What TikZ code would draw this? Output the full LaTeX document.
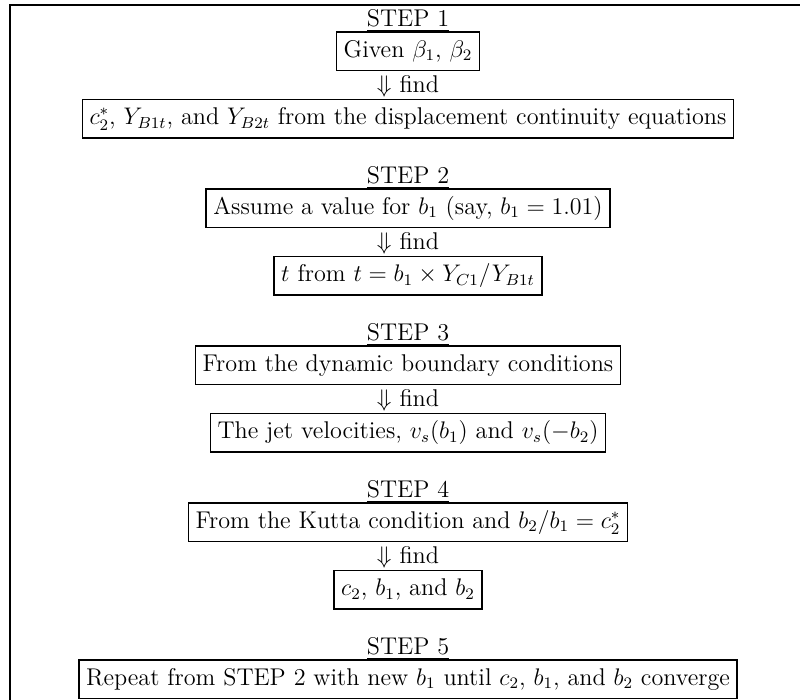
\documentclass[tikz,border=0pt]{standalone}
\usepackage{tikz}
\usetikzlibrary{
    positioning % for placing nodes relative to other nodes
}

\begin{document}
\begin{tikzpicture}[
    x=0.5pt,y=-0.5pt,
    font=\fontsize{12.1}{14.5}\selectfont,
    every node/.style  = {inner sep=0pt,outer sep=0pt},
    steplabel/.style   = {anchor=base},
    stepbox/.style     = {draw,line width=0.8pt,inner sep=3.6pt,text height=9pt,text depth=3pt},
    findtext/.style    = {text height=8.5pt,text depth=2.5pt},
    frameline/.style   = {line width=0.8pt}
]
\useasboundingbox (0,0) rectangle (800,700);

% outer frame (only top and left edges are visible)
    \coordinate (fbl) at (10,700);
    \coordinate (ftl) at (10,5);
    \coordinate (ftr) at (800,5);
    \draw [frameline] (fbl) -- (ftl) -- (ftr);

% STEP 1
    \node [steplabel]              (s1) at (408,27)         {\underline{STEP 1}};
    \node [stepbox]                (g1) [below=2.5pt of s1.base] {Given $\beta_1$, $\beta_2$};
    \node [findtext]               (f1) [below=2.5pt of g1] {$\Downarrow$ find};
    \node [stepbox]                (r1) [below=3.5pt of f1.base] {$c_2^*$, $Y_{B1t}$, and $Y_{B2t}$ from the displacement continuity equations};

% STEP 2
    \node [steplabel]              (s2) at (408,184)        {\underline{STEP 2}};
    \node [stepbox]                (g2) [below=2.5pt of s2.base] {Assume a value for $b_1$ (say, $b_1 = 1.01$)};
    \node [findtext]               (f2) [below=2.5pt of g2] {$\Downarrow$ find};
    \node [stepbox]                (r2) [below=3.5pt of f2.base] {$t$ from $t = b_1 \times Y_{C1}/Y_{B1t}$};

% STEP 3
    \node [steplabel]              (s3) at (408,341)        {\underline{STEP 3}};
    \node [stepbox]                (g3) [below=2.5pt of s3.base] {From the dynamic boundary conditions};
    \node [findtext]               (f3) [below=2.5pt of g3] {$\Downarrow$ find};
    \node [stepbox]                (r3) [below=3.5pt of f3.base] {The jet velocities, $v_s(b_1)$ and $v_s(-b_2)$};

% STEP 4
    \node [steplabel]              (s4) at (408,498)        {\underline{STEP 4}};
    \node [stepbox]                (g4) [below=2.5pt of s4.base] {From the Kutta condition and $b_2/b_1 = c_2^*$};
    \node [findtext]               (f4) [below=2.5pt of g4] {$\Downarrow$ find};
    \node [stepbox]                (r4) [below=3.5pt of f4.base] {$c_2$, $b_1$, and $b_2$};

% STEP 5
    \node [steplabel]              (s5) at (408,655)        {\underline{STEP 5}};
    \node [stepbox]                (g5) [below=2.5pt of s5.base] {Repeat from STEP 2 with new $b_1$ until $c_2$, $b_1$, and $b_2$ converge};

\end{tikzpicture}
\end{document}
